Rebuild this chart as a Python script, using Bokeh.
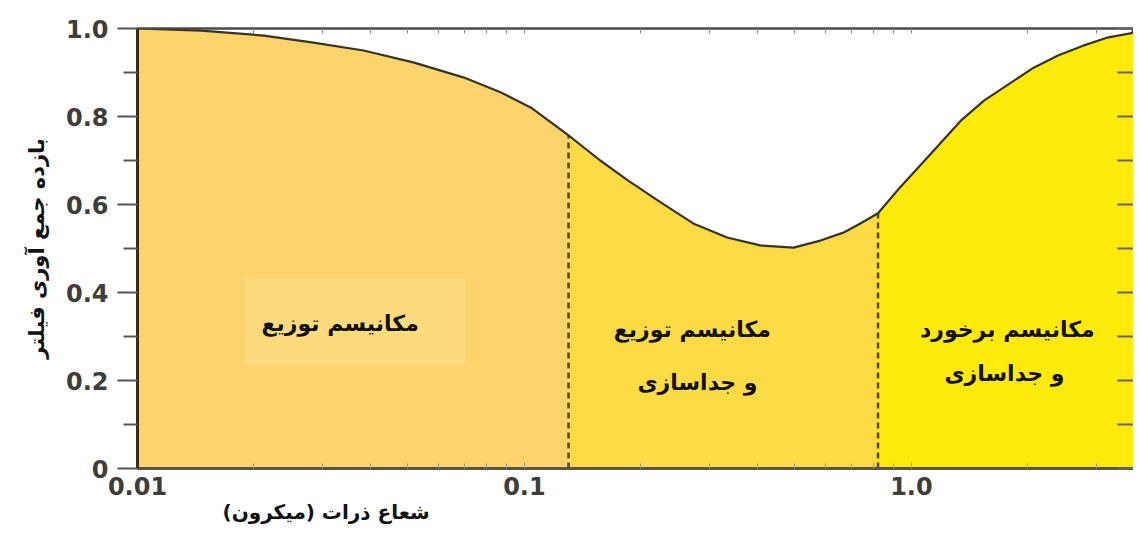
from bokeh.plotting import figure
from bokeh.models import Range1d, FixedTicker, LinearAxis, LogAxis, Label, Title
from bokeh.embed import file_html
from bokeh.resources import INLINE
import numpy as np

# ---- data ----
radius_um = [0.01, 0.0146, 0.0212, 0.0285, 0.0384, 0.0516, 0.0695, 0.0867, 0.104,
             0.13, 0.157, 0.185, 0.225, 0.273, 0.334, 0.407, 0.496, 0.582,
             0.667, 0.738, 0.82, 0.937, 1.10, 1.34, 1.54, 2.07, 2.40, 2.78,
             3.23, 3.75]
efficiency = [1.0, 0.995, 0.984, 0.968, 0.95, 0.923, 0.889, 0.855, 0.82,
              0.757, 0.70, 0.655, 0.605, 0.557, 0.525, 0.507, 0.502, 0.518,
              0.536, 0.557, 0.58, 0.64, 0.707, 0.79, 0.836, 0.911, 0.939, 0.961,
              0.98, 0.99]
boundaries = [0.13, 0.82]
region_colors = ["#FCD46B", "#FCDB45", "#FFEA0C"]

x_ticks = [0.01, 0.1, 1.0]
x_tick_labels = ["0.01", "0.1", "1.0"]
x_minor = [0.02, 0.03, 0.04, 0.05, 0.06, 0.07, 0.08, 0.09,
           0.2, 0.3, 0.4, 0.5, 0.6, 0.7, 0.8, 0.9, 2.0, 3.0]
y_ticks = [0, 0.2, 0.4, 0.6, 0.8, 1.0]
y_tick_labels = ["0", "0.2", "0.4", "0.6", "0.8", "1.0"]
y_minor = [0.1, 0.3, 0.5, 0.7, 0.9]

region_texts = [
    ("مکانیسم توزیع", 0.0334, 0.330),
    ("مکانیسم توزیع", 0.2716, 0.316),
    ("و جداسازی", 0.280, 0.195),
    ("مکانیسم برخورد", 1.77, 0.316),
    ("و جداسازی", 1.74, 0.216),
]
y_title = "بازده جمع آوری فیلتر"
x_title = "شعاع ذرات (میکرون)"

# ---- figure ----
p = figure(width=1133, height=525, x_axis_type="log",
           x_range=Range1d(radius_um[0], radius_um[-1]), y_range=Range1d(0, 1),
           output_backend="svg", toolbar_location=None,
           min_border_left=137, min_border_top=28, min_border_bottom=57,
           min_border_right=0)
p.grid.visible = False
p.outline_line_color = "#4a4a4a"
p.outline_line_width = 2
p.background_fill_color = "white"

xs = np.array(radius_um)
ys = np.array(efficiency)
edges = [radius_um[0]] + boundaries + [radius_um[-1]]
for i, col in enumerate(region_colors):
    m = (xs >= edges[i]) & (xs <= edges[i + 1])
    p.varea(x=xs[m], y1=0, y2=ys[m], fill_color=col)

# lighter box behind first label
p.quad(left=0.0190, right=0.0704, bottom=0.234, top=0.432,
       fill_color="#FDDA7C", line_color=None)

b_tops = [ys[np.isclose(xs, b)][0] for b in boundaries]
p.segment(x0=boundaries, y0=[0, 0], x1=boundaries, y1=b_tops,
          line_color="#5A4514", line_width=2.5, line_dash="6 4")

p.line(xs, ys, line_color="#35332a", line_width=2.2)

for txt, tx, ty in region_texts:
    p.add_layout(Label(x=tx, y=ty, text=txt, text_align="center",
                       text_baseline="middle", text_font="DejaVu Sans",
                       text_font_style="bold",
                       text_font_size="22px", text_color="#111111"))

# bottom axis
xa = p.xaxis[0]
xa.ticker = FixedTicker(ticks=x_ticks, minor_ticks=x_minor)
xa.major_label_overrides = {t: l for t, l in zip(x_ticks, x_tick_labels)}
xa.major_label_text_font = "DejaVu Sans"
xa.major_label_text_font_style = "bold"
xa.major_label_text_font_size = "24px"
xa.major_label_text_color = "#3d3d3d"
xa.major_label_standoff = 8
xa.major_tick_out = 0
xa.major_tick_in = 6
xa.minor_tick_out = 0
xa.minor_tick_in = 5
xa.minor_tick_line_color = "#9a9a80"
xa.major_tick_line_color = "#9a9a80"
xa.axis_line_color = "#555548"
xa.axis_line_width = 3

# x-axis title, placed under the left part of the axis as in the original
p.add_layout(Title(text=x_title, align="left", offset=85, standoff=0,
                   text_font="DejaVu Sans", text_font_style="bold",
                   text_font_size="20px", text_color="#111111"), "below")

# left axis
ya = p.yaxis[0]
ya.ticker = FixedTicker(ticks=y_ticks, minor_ticks=y_minor)
ya.major_label_overrides = {t: l for t, l in zip(y_ticks, y_tick_labels)}
ya.major_label_text_font = "DejaVu Sans"
ya.major_label_text_font_style = "bold"
ya.major_label_text_font_size = "24px"
ya.major_label_text_color = "#3d3d3d"
ya.major_label_standoff = 9
ya.major_tick_out = 20
ya.major_tick_in = 0
ya.minor_tick_out = 14
ya.minor_tick_in = 0
ya.major_tick_line_color = "#555555"
ya.minor_tick_line_color = "#555555"
ya.major_tick_line_width = 2
ya.minor_tick_line_width = 2
ya.axis_line_color = "#3a2c12"
ya.axis_line_width = 3
ya.axis_label = y_title
ya.axis_label_text_font = "DejaVu Sans"
ya.axis_label_text_font_style = "bold"
ya.axis_label_text_font_size = "21px"
ya.axis_label_text_color = "#111111"
ya.axis_label_standoff = 14

# top axis (minor ticks only, no labels)
top = LogAxis(ticker=FixedTicker(ticks=[], minor_ticks=x_ticks + x_minor),
              major_label_standoff=0, major_tick_out=0, major_tick_in=0,
              minor_tick_out=0, minor_tick_in=5,
              minor_tick_line_color="#8a8a8a", axis_line_color="#4a4a4a",
              axis_line_width=2)
p.add_layout(top, "above")

# right axis (minor ticks only, no labels)
right = LinearAxis(ticker=FixedTicker(ticks=[], minor_ticks=y_ticks + y_minor),
                   major_label_standoff=0, major_tick_out=0, major_tick_in=0,
                   minor_tick_out=0, minor_tick_in=16,
                   minor_tick_line_color="#666666", minor_tick_line_width=2,
                   axis_line_color="#4a4a4a")
p.add_layout(right, "right")

open("out.html", "w").write(file_html(p, INLINE))
